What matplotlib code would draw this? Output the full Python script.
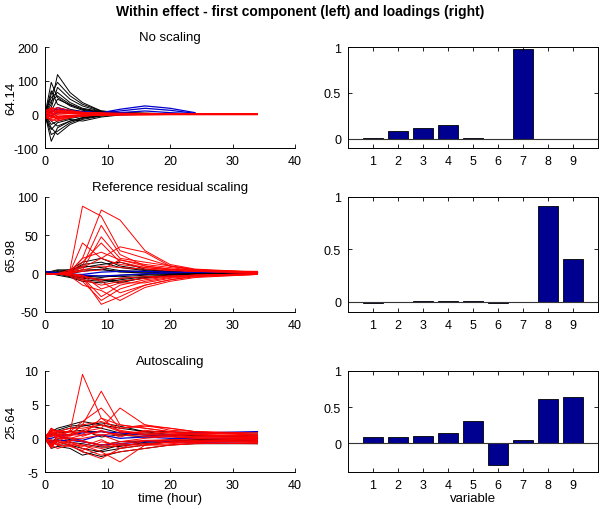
import numpy as np
import matplotlib
matplotlib.use('Agg')
import matplotlib.pyplot as plt

plt.rcParams['font.family'] = ['Liberation Sans', 'DejaVu Sans']
plt.rcParams['axes.unicode_minus'] = False

# tiempos de muestreo (horas)
T = [0, 1, 2, 4, 6, 9, 12, 16, 20, 24, 34]

# --- No scaling ---
ns_black = [
    [0, 95, 50, 25, 12, 5, 3, 2, 1, 0, 0],
    [0, -80, -40, -20, -10, -3, 0, 0, 0, 0, 0],
    [0, 30, 118, 65, 35, 10, 5, 3, 2, 1, 0],
    [0, 60, 95, 55, 30, 10, 5, 3, 2, 1, 0],
    [0, 20, 80, 45, 25, 8, 5, 3, 2, 1, 0],
    [0, -40, -60, -30, -15, -5, 0, 0, 0, 0, 0],
    [0, -60, -50, -25, -12, -4, 0, 0, 0, 0, 0],
    [0, 40, 55, 30, 15, 6, 4, 2, 1, 0, 0],
    [0, -20, -35, -20, -10, -3, 0, 0, 0, 0, 0],
    [0, 70, 30, 15, 8, 4, 3, 2, 1, 0, 0],
    [0, -30, -20, -12, -6, -2, 0, 0, 0, 0, 0],
    [0, 10, 45, 28, 15, 6, 3, 2, 1, 0, 0],
    [-10, -45, -25, -15, -20, -8, -2, 0, 0, 0, 0],
    [5, 50, 65, 35, 18, 8, 4, 2, 1, 0, 0],
]
ns_red = [
    [5, 20, 15, 8, 5, 3, 2, 1, 1, 1, 0],
    [-5, -15, -20, -10, -5, -2, 0, 0, 0, 0, 0],
    [0, 10, 5, 3, 2, 1, 1, 0, 0, 0, 0],
    [-10, -5, -10, -5, -2, -1, 0, 0, 0, 0, 0],
    [10, 15, 20, 12, 6, 3, 2, 1, 0, 0, 0],
    [-3, -20, -12, -8, -4, -2, -1, 0, 0, 0, 0],
    [2, 5, -5, -3, -2, 0, 0, 0, 0, 0, 0],
    [8, 0, 10, 6, 3, 2, 1, 1, 1, 0, 0],
    [-8, 8, -8, -4, -2, -1, 0, 0, 0, 0, 0],
    [0, -10, 0, 2, 1, 0, 0, 0, 0, 0, 0],
    [4, 12, 8, 5, 4, 3, 2, 2, 1, 1, 1],
    [-4, -8, -14, -6, -3, -1, -1, 0, 0, 0, 0],
    [12, 18, 10, 7, 5, 4, 3, 3, 2, 2, 2],
    [-12, -12, -6, -6, -4, -3, -2, -2, -1, -1, -1],
    [6, -3, 12, 9, 6, 4, 3, 2, 2, 1, 1],
    [-6, 3, -16, -8, -5, -3, -2, -1, -1, -1, -1],
    [1, 14, 3, 4, 3, 2, 2, 1, 1, 1, 0],
    [-1, -6, 8, 2, 1, 1, 0, 0, 0, 0, 0],
]
ns_blue = [
    [0, 10, 15, 12, 8, 5, 15, 25, 18, 5, np.nan],
    [0, -5, 5, 5, 3, 3, 10, 18, 12, 3, np.nan],
    [0, 5, 20, 10, 5, 2, 5, 10, 5, 2, np.nan],
]

# --- Reference residual scaling ---
rr_black = [
    [2, 3, 5, 5, 15, 20, 10, 5, 3, 2, 1],
    [0, 0, -2, -5, -10, -12, -8, -4, -2, -1, 0],
    [0, 2, 0, 3, 8, 12, 15, 6, 3, 1, 0],
    [0, 0, 0, -3, -6, -8, -12, -5, -3, -1, 0],
    [3, 2, 4, 2, 5, 5, 3, 2, 1, 1, 0],
    [0, 0, 0, -2, -3, -5, -2, -1, 0, 0, 0],
    [0, 0, 3, 5, 10, 8, 4, 3, 2, 1, 0],
    [0, 0, 0, -4, -8, -10, -6, -4, -2, 0, 0],
    [0, 1, 2, 3, 12, 15, 8, 4, 2, 1, 0],
    [0, 0, -1, -2, -5, -7, -10, -6, -3, -1, 0],
    [1, 1, 1, 0, 3, 6, 2, 1, 0, 0, 0],
    [0, 0, 0, -1, -4, -3, -4, -2, -1, 0, 0],
]
rr_red = [
    [0, 0, 0, 5, 88, 75, 30, 20, 10, 5, 2],
    [0, 0, 0, 3, 20, 83, 70, 30, 12, 6, 2],
    [0, 0, 0, 2, 40, 20, 35, 28, 10, 5, 1],
    [0, 0, 0, 2, 10, 63, 25, 10, 6, 4, 2],
    [0, 0, 0, 0, 5, 48, 20, 15, 10, 5, 2],
    [0, 0, 0, 0, 15, 40, 15, 8, 5, 3, 1],
    [0, 0, 0, 0, -5, -40, -30, -15, -8, -4, -1],
    [0, 0, 0, -2, -10, -35, -20, -10, -5, -2, 0],
    [0, 0, 0, -3, -15, -22, -35, -18, -10, -5, -1],
    [0, 0, 0, 0, -5, -30, -15, -8, -4, -2, 0],
    [0, 0, 0, 2, 8, 20, 12, 8, 5, 3, 1],
    [0, 0, 0, 0, -8, -15, -10, -6, -3, -2, 0],
    [0, 0, 0, 2, 20, 28, 18, 12, 8, 4, 2],
    [0, 0, 0, -1, -3, -10, -25, -15, -8, -3, 0],
    [0, 0, 0, 1, 5, 10, 8, 6, 4, 3, 2],
    [0, 0, 0, 0, -2, -20, -12, -12, -6, -3, -1],
    [0, 0, 0, 1, 3, 5, 18, 10, 6, 4, 3],
    [0, 0, 0, 0, -3, -8, -6, -4, -3, -2, -1],
]
rr_blue = [
    [3, 2, 1, 0, -2, -3, -2, 0, 1, 2, 2],
    [0, 0, 0, -1, -1, 2, 3, 3, 2, 2, 1],
]

# --- Autoscaling ---
au_black = [
    [0, 1, 1.5, 2, 2.5, 2, 1.5, 1, 1, 0.8, 0.8],
    [0, -1, -0.5, -1, -2, -2.7, -2, -1.5, -1, -0.8, -0.8],
    [0.5, 0.5, 1, 1.5, 1.8, 2.3, 1.8, 1, 0.5, 0.5, 0.3],
    [-0.5, -0.5, -1, -1, -1.5, -2, -1.5, -1, -0.5, -0.5, -0.3],
    [0, 0.8, 0.5, 0.5, 1, 1, 0.5, 0.2, 0.5, 0.3, 0.5],
    [0, -0.8, 0.3, -0.2, -0.5, -1, -0.5, -0.5, -0.2, -0.3, -0.5],
    [0, 1.2, 1.2, 1.8, 2, 1.5, 0.8, 0.5, 0.3, 0, 0],
    [0, -1.5, -1.2, -1.5, -2.5, -1.8, -1, -0.8, -0.5, -0.2, 0],
    [0.2, 0.3, 0.8, 1, 1.2, 0.2, 0.5, 0.8, 0.6, 0.4, 0.2],
    [-0.2, -0.3, -0.2, -0.6, -0.8, -1.3, -1.2, -0.6, -0.4, -0.2, -0.2],
]
au_red = [
    [0, 1.5, 0.5, 1, 9.5, 3, 2, 1.5, 1, 0.8, 0.5],
    [0, -1.5, 0, 0.5, 2, 7, 2, 1.5, 1, 0.5, 0.3],
    [0, 0.5, 1, 1, 2.5, 4.5, 1.5, 2, 1.2, 1, 0.8],
    [0, 1, -0.5, 0.5, 1, 1.5, 4.5, 2, 1.5, 1, 0.6],
    [0, -1, -1.5, -1, -2, -3, -1.5, -1, -0.5, -0.5, -0.5],
    [0, 0.5, 0.5, -0.5, -1, -2, -3.5, -1, -0.8, -0.6, -0.4],
    [0, 1.2, 1, 0.5, 2, 2.5, 1.5, 1.8, 1.5, 1, 0.5],
    [0, -0.5, -1, -0.5, -1.5, -2.5, -2, -1.5, -1, -0.8, -0.6],
    [0, 0.8, 0, 0, 0.5, 1, 0.5, 0.3, 0.2, 0.1, 0],
    [0, -1.2, 0.5, 0, -0.5, -1, -0.5, -0.3, -0.2, -0.1, 0],
    [0, 1.5, 1, 1.5, 1.5, 2, 1, 0.8, 0.6, 0.5, 0.3],
    [0, -0.8, -0.5, -1, -1, -1.5, -1, -0.8, -0.6, -0.4, -0.2],
    [0, 0.3, 1.2, 0.8, 1, 0.5, 0.8, 1, 0.8, 0.6, 0.3],
    [0, -0.3, -1, -1.2, -1.8, -0.5, -1, -1, -1, -0.7, -0.8],
    [0, 1, 0.5, 0.5, 0.5, 3, 1, 0.5, 0.5, 0.3, 0.2],
    [0, -1, 0, 0, 0, 0.5, -0.5, 0, 0.3, 0, -0.3],
    [0.5, 0.2, 0.8, 0.3, 1.2, 2, 1.2, 0.6, 0.4, 0.2, 0.1],
    [-0.5, -0.2, -0.8, -0.3, -0.3, -1.2, -0.8, -0.4, -0.3, -0.3, -0.2],
    [0.2, 1.3, 0.2, 1.2, 0.3, 1.2, 0.2, 1.2, 0.8, 0.7, 0.6],
    [-0.2, -1.3, -0.3, -0.8, -1.2, -0.2, -1.5, -0.3, -0.6, -0.5, -0.4],
]
au_blue = [
    [0.3, 0.5, 0.5, 0.5, 0.8, 1, 0.8, 0.5, 0.5, 0.8, 1],
    [-0.3, -0.5, -0.3, -0.3, -0.5, -1, -0.8, -0.5, -0.5, -0.6, -0.5],
    [0, 0, 0.3, 0, -0.3, 0.5, 0, 0.2, 0, 0, 0],
]

# loadings
variables = [1, 2, 3, 4, 5, 6, 7, 8, 9]
load_none = [0.005, 0.09, 0.12, 0.155, 0.005, 0.0, 0.98, 0.0, 0.0]
load_ref = [-0.01, 0.0, 0.005, 0.005, 0.005, -0.01, 0.0, 0.91, 0.41]
load_auto = [0.09, 0.09, 0.10, 0.14, 0.31, -0.30, 0.04, 0.61, 0.64]

titles = ['No scaling', 'Reference residual scaling', 'Autoscaling']
ylabels = ['64.14', '65.98', '25.64']
score_sets = [(ns_black, ns_blue, ns_red), (rr_black, rr_blue, rr_red), (au_black, au_blue, au_red)]
loadings = [load_none, load_ref, load_auto]
score_ylims = [(-100, 200), (-50, 100), (-5, 10)]
score_yticks = [[-100, 0, 100, 200], [-50, 0, 50, 100], [-5, 0, 5, 10]]
load_ylims = [(-0.1, 1), (-0.1, 1), (-0.4, 1)]

# posiciones en pixels (fig 600x510): (top, bottom)
rows = [(48, 149), (198, 313), (372, 473)]

fig = plt.figure(figsize=(6, 5.1), dpi=100)
W, H = 600.0, 510.0

for i in range(3):
    top, bot = rows[i]
    axl = fig.add_axes([45 / W, 1 - bot / H, 250 / W, (bot - top) / H])
    axr = fig.add_axes([348 / W, 1 - bot / H, 250 / W, (bot - top) / H])

    black, blue, red = score_sets[i]
    for y in black:
        axl.plot(T, y, color='black', lw=0.7)
    for y in blue:
        axl.plot(T, y, color='#0000cc', lw=0.9)
    for y in red:
        axl.plot(T, y, color='red', lw=0.7)
    axl.set_xlim(0, 40)
    axl.set_ylim(*score_ylims[i])
    axl.set_xticks([0, 10, 20, 30, 40])
    axl.set_yticks(score_yticks[i])
    axl.spines['top'].set_visible(False)
    axl.spines['right'].set_visible(False)
    axl.tick_params(direction='in', length=3, labelsize=9, width=0.6, pad=5)
    axl.set_title(titles[i], fontsize=9.5, pad=5)
    axl.set_ylabel(ylabels[i], fontsize=9.5)
    axl.yaxis.set_label_coords(-0.112, 0.5)

    axr.bar(variables, loadings[i], width=0.8, color='#000090', edgecolor='black', lw=0.6)
    axr.axhline(0, color='#333333', lw=0.8)
    axr.set_xlim(0, 10)
    axr.set_ylim(*load_ylims[i])
    axr.set_xticks(variables)
    axr.set_yticks([0, 0.5, 1])
    axr.set_yticklabels(['0', '0.5', '1'])
    axr.tick_params(direction='in', length=3, labelsize=9, width=0.6, top=True, right=True, pad=5)

    for ax in (axl, axr):
        for s in ax.spines.values():
            s.set_linewidth(0.7)

    if i == 2:
        axl.set_xlabel('time (hour)', fontsize=9.5, labelpad=1)
        axr.set_xlabel('variable', fontsize=9.5, labelpad=1)

fig.text(0.5, 1 - 12 / H, 'Within effect - first component (left) and loadings (right)',
         ha='center', va='center', fontsize=10, fontweight='bold')

fig.savefig('out.png', dpi=100)
